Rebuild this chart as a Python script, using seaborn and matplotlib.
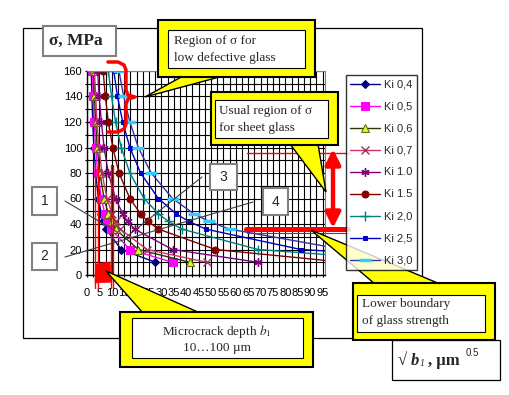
import numpy as np
import matplotlib
matplotlib.use('Agg')
import matplotlib.pyplot as plt
import seaborn as sns
from matplotlib.patches import Rectangle, Polygon, FancyArrowPatch
from matplotlib.lines import Line2D

# values: stress levels and crack sqrt-depth per Ki curve
sigma = [160, 140, 120, 100, 80, 60, 48, 42, 36, 20, 10]
ki_labels = ['Ki 0,4', 'Ki 0,5', 'Ki 0,6', 'Ki 0,7', 'Ki 1.0', 'Ki 1.5', 'Ki 2,0', 'Ki 2,5', 'Ki 3,0']
x_ki04 = [1.7, 2.0, 2.3, 2.8, 3.5, 4.6, 5.8, 6.6, 7.7, 13.8, 27.6]
x_ki05 = [2.2, 2.5, 2.9, 3.5, 4.3, 5.8, 7.2, 8.2, 9.6, 17.3, 34.5]
x_ki06 = [2.6, 3.0, 3.5, 4.1, 5.2, 6.9, 8.6, 9.9, 11.5, 20.7, 41.4]
x_ki07 = [3.0, 3.5, 4.0, 4.8, 6.0, 8.1, 10.1, 11.5, 13.4, 24.2, 48.3]
x_ki10 = [4.3, 4.9, 5.8, 6.9, 8.6, 11.5, 14.4, 16.4, 19.2, 34.5, 69.0]
x_ki15 = [6.5, 7.4, 8.6, 10.4, 12.9, 17.3, 21.6, 24.6, 28.8, 51.8, 103.5]
x_ki20 = [8.6, 9.9, 11.5, 13.8, 17.3, 23.0, 28.8, 32.9, 38.3, 69.0, 138.0]
x_ki25 = [10.8, 12.3, 14.4, 17.3, 21.6, 28.8, 35.9, 41.1, 47.9, 86.3, 172.5]
x_ki30 = [12.9, 14.8, 17.3, 20.7, 25.9, 34.5, 43.1, 49.3, 57.5, 103.5, 207.0]
x_tick_labels = [str(v) for v in range(0, 100, 5)]
y_tick_labels = [str(v) for v in range(0, 161, 20)]

series_x = [x_ki04, x_ki05, x_ki06, x_ki07, x_ki10, x_ki15, x_ki20, x_ki25, x_ki30]
styles = [
    dict(color='#000080', marker='D', ms=4.5, mfc='#000080', mec='#000080'),
    dict(color='#FF00FF', marker='s', ms=5.5, mfc='#FF00FF', mec='#FF00FF'),
    dict(color='#333300', marker='^', ms=6, mfc='#CCFF33', mec='#666600'),
    dict(color='#CC3366', marker='x', ms=6, mec='#993366', mew=1),
    dict(color='#800080', marker=(6, 2, 0), ms=6, mec='#800080', mew=1),
    dict(color='#800000', marker='o', ms=5, mfc='#800000', mec='#800000'),
    dict(color='#008080', marker='+', ms=7, mec='#008080', mew=1),
    dict(color='#0000CC', marker='s', ms=2.8, mfc='#0000CC', mec='#0000CC'),
    dict(color='#3333AA', marker='_', ms=8, mec='#33CCFF', mew=2.5),
]

sns.set_theme(style='white')
plt.rcParams['font.family'] = ['Liberation Sans', 'DejaVu Sans']
plt.rcParams['mathtext.fontset'] = 'stix'

W, H = 510, 395
fig = plt.figure(figsize=(5.1, 3.95), dpi=100)
fig.patch.set_facecolor('white')


def P(x, y):
    return (x / W, 1 - y / H)


def frect(x0, y0, x1, y1, **kw):
    r = Rectangle(P(x0, y1), (x1 - x0) / W, (y1 - y0) / H, transform=fig.transFigure, **kw)
    fig.add_artist(r)


def fline(xs, ys, **kw):
    l = Line2D([x / W for x in xs], [1 - y / H for y in ys], transform=fig.transFigure, **kw)
    fig.add_artist(l)


def fpoly(pts, **kw):
    p = Polygon([P(x, y) for x, y in pts], closed=True, transform=fig.transFigure, **kw)
    fig.add_artist(p)


# chart frame
frect(23, 28, 422, 338, fill=False, edgecolor='black', lw=0.9, zorder=0.5)

ax = fig.add_axes([87 / W, 1 - 275 / H, (325 - 87) / W, (275 - 71) / H])
ax.set_facecolor('white')

for xs, st in zip(series_x, styles):
    sns.lineplot(x=xs, y=sigma[:len(xs)], ax=ax, sort=False, estimator=None,
                 lw=1, legend=False, **st)

handles = list(ax.lines)

ax.set_xlim(0, 96)
ax.set_ylim(0, 160)
ax.set_xticks(np.arange(0, 100, 5))
ax.set_xticklabels(x_tick_labels)
ax.set_xticks(np.arange(0, 96, 2.5), minor=True)
ax.set_yticks(np.arange(0, 161, 20))
ax.set_yticklabels(y_tick_labels)
ax.set_yticks(np.arange(0, 161, 10), minor=True)
ax.grid(which='both', color='black', lw=0.8)
ax.set_axisbelow(True)
ax.tick_params(which='both', length=3, width=0.8, color='black', direction='inout',
               labelsize=8, labelcolor='black')
ax.tick_params(axis='x', pad=8)
ax.tick_params(axis='y', pad=2)
ax.tick_params(bottom=True, left=True, which='both')
for s in ['left', 'bottom']:
    ax.spines[s].set_color('black')
    ax.spines[s].set_linewidth(1)
for s in ['top', 'right']:
    ax.spines[s].set_color('#808080')
    ax.spines[s].set_linewidth(0.8)

leg = fig.legend(handles, ki_labels, loc='upper left', bbox_to_anchor=P(346, 75),
                 fontsize=8, frameon=True, fancybox=False, borderpad=0.4,
                 labelspacing=1.08, handlelength=2.7, handletextpad=0.3,
                 borderaxespad=0)
leg.get_frame().set_edgecolor('black')
leg.get_frame().set_linewidth(1)

# red marks
red = '#FF0000'
fline([108, 118, 124, 126, 126, 128, 135, 128, 126, 126, 124, 118, 108],
      [62, 62, 65, 70, 90, 95, 97, 99, 104, 124, 129, 132, 132],
      color=red, lw=2.5, solid_joinstyle='round', solid_capstyle='round', zorder=3)
for xv in [95, 98, 111, 113.5]:
    fline([xv, xv], [165, 288], color=red, lw=1, zorder=3)
fpoly([(96, 264), (110, 262), (112, 282), (95, 283)], facecolor=red, edgecolor=red, lw=0.5, zorder=3)
fline([247, 350], [152.7, 152.7], color=red, lw=1, zorder=3)
fline([246, 348], [229, 229], color=red, lw=3.6, zorder=3)
fline([247, 348], [232.5, 232.5], color=red, lw=0.8, zorder=3)
arr = FancyArrowPatch(posA=P(333, 149), posB=P(333, 228), transform=fig.transFigure,
                      arrowstyle='<|-|>,head_length=0.9,head_width=0.45',
                      mutation_scale=10, color=red, lw=3.2, shrinkA=0, shrinkB=0, zorder=3)
fig.add_artist(arr)

# number boxes and leader lines
gray = '#404040'
fline([65, 117], [201, 232], color=gray, lw=0.8, zorder=3)
fline([65, 253], [257, 202], color=gray, lw=0.8, zorder=3)
fline([202, 125], [177, 238], color=gray, lw=0.8, zorder=3)
for (x0, y0, x1, y1, t) in [(32, 187, 57, 215, '1'), (32, 243, 57, 270, '2'),
                            (210, 164, 237, 190, '3'), (263, 188, 288, 215, '4')]:
    frect(x0, y0, x1, y1, facecolor='white', edgecolor='#808080', lw=1.5, zorder=4)
    fig.text(*P((x0 + x1) / 2, (y0 + y1) / 2), t, ha='center', va='center',
             fontsize=10, zorder=5)

# axis title boxes
serif = ['Liberation Serif', 'DejaVu Serif']
frect(43, 26, 116, 56, facecolor='white', edgecolor='#808080', lw=1.5, zorder=4)
fig.text(*P(49, 41), 'σ, MPa', ha='left', va='center', fontsize=12.5, fontweight='bold',
         family=serif, zorder=5)

frect(392, 340, 500, 380, facecolor='white', edgecolor='black', lw=0.9, zorder=4)
fig.text(*P(398, 361), '√', ha='left', va='center', fontsize=12, fontweight='bold',
         family=serif, zorder=5)
fig.text(*P(411, 361), 'b', ha='left', va='center', fontsize=12, fontweight='bold',
         fontstyle='italic', family=serif, zorder=5)
fig.text(*P(420, 364), '1', ha='left', va='center', fontsize=7, fontstyle='italic',
         family=serif, zorder=5)
fig.text(*P(428, 361), ', µm', ha='left', va='center', fontsize=12, fontweight='bold',
         family=serif, zorder=5)
fig.text(*P(466, 353), '0.5', ha='left', va='center', fontsize=7, family=['Liberation Sans'],
         zorder=5)


# yellow callouts
def callout(outer, inner, wedge, lines, tx, ty, ha='left', dy=17):
    fpoly(wedge, facecolor='#FFFF00', edgecolor='black', lw=1, zorder=5)
    frect(*outer, facecolor='#FFFF00', edgecolor='black', lw=1.5, zorder=6)
    frect(*inner, facecolor='white', edgecolor='black', lw=0.8, zorder=7)
    for i, t in enumerate(lines):
        fig.text(*P(tx, ty + i * dy), t, ha=ha, va='center', fontsize=9.5,
                 family=serif, zorder=8)


callout((158, 20, 315, 77), (168, 30, 305, 68), [(183, 76), (223, 76), (145, 97)],
        ['Region of σ for', 'low defective glass'], 174, 41)
callout((211, 92, 338, 145), (215, 100, 328, 138), [(290, 144), (318, 144), (326, 192)],
        ['Usual region of σ', 'for sheet glass'], 219, 111)
callout((353, 283, 495, 340), (357, 295, 485, 332), [(375, 284), (440, 284), (311, 230)],
        ['Lower boundary', 'of glass strength'], 362, 304)
callout((120, 312, 313, 367), (132, 318, 303, 358), [(143, 313), (200, 313), (106, 271)],
        ['Microcrack depth $b_1$', '10…100 µm'], 217, 331, ha='center')

fig.savefig('out.png', dpi=100)
